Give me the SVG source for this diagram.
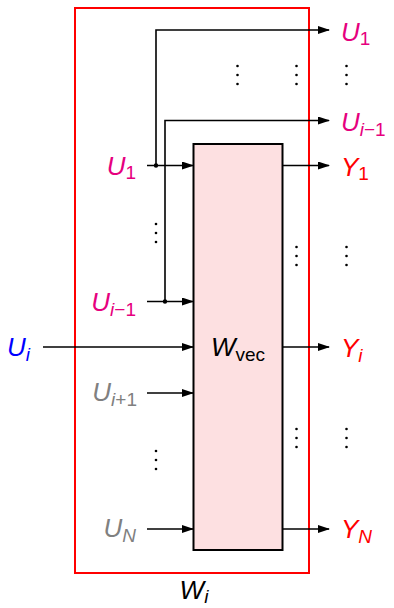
<svg xmlns="http://www.w3.org/2000/svg" width="394" height="608" viewBox="0 0 394 608">
<defs>
<marker id="ah" markerWidth="12" markerHeight="8" refX="11" refY="4" orient="auto" markerUnits="userSpaceOnUse">
<path d="M0,0 L12,4 L0,8 Z" fill="#000"/>
</marker>
</defs>
<style>
text{font-family:"Liberation Sans","DejaVu Sans",sans-serif;font-style:italic;font-size:26px}
.sub{font-size:19px}
.up{font-style:normal}
.mag{fill:#e6007e}
.red{fill:#ff0000}
.blue{fill:#0000ff}
.gray{fill:#808080}
.ln{stroke:#000;stroke-width:1.6;fill:none}
.arr{marker-end:url(#ah)}
.dot{fill:#000}
</style>
<g id="outer">
<rect x="75" y="8" width="234" height="565" fill="none" stroke="#ff0000" stroke-width="2"/>
<text x="194" y="599" text-anchor="middle">W<tspan class="sub" dy="4">i</tspan></text>
</g>
<g id="block">
<rect x="193.5" y="144" width="89" height="406" fill="#fde0e1" stroke="#000" stroke-width="2"/>
<text x="211" y="356">W<tspan class="sub up" dy="5">vec</tspan></text>
</g>
<g id="connectors">
<path class="ln arr" d="M147,165.5 H193"/>
<path class="ln arr" d="M156,165.5 V30 H329"/>
<path class="ln arr" d="M147,301.5 H193"/>
<path class="ln arr" d="M165,301.5 V120.5 H329"/>
<path class="ln arr" d="M43,347 H193"/>
<path class="ln arr" d="M147,393 H193"/>
<path class="ln arr" d="M147,529 H193"/>
<path class="ln arr" d="M283,165.5 H329"/>
<path class="ln arr" d="M283,347 H329"/>
<path class="ln arr" d="M283,529 H329"/>
<circle class="dot" cx="156" cy="165.5" r="2.2"/>
<circle class="dot" cx="165" cy="301.5" r="2.2"/>
</g>
<g id="vdots" class="dot">
<circle cx="237.5" cy="66" r="1.3"/><circle cx="237.5" cy="75" r="1.3"/><circle cx="237.5" cy="84" r="1.3"/>
<circle cx="296.5" cy="66" r="1.3"/><circle cx="296.5" cy="75" r="1.3"/><circle cx="296.5" cy="84" r="1.3"/>
<circle cx="346.5" cy="66" r="1.3"/><circle cx="346.5" cy="75" r="1.3"/><circle cx="346.5" cy="84" r="1.3"/>
<circle cx="156" cy="224" r="1.3"/><circle cx="156" cy="233" r="1.3"/><circle cx="156" cy="242" r="1.3"/>
<circle cx="296.5" cy="247" r="1.3"/><circle cx="296.5" cy="256" r="1.3"/><circle cx="296.5" cy="265" r="1.3"/>
<circle cx="346.5" cy="247" r="1.3"/><circle cx="346.5" cy="256" r="1.3"/><circle cx="346.5" cy="265" r="1.3"/>
<circle cx="156" cy="451" r="1.3"/><circle cx="156" cy="460" r="1.3"/><circle cx="156" cy="469" r="1.3"/>
<circle cx="296.5" cy="429" r="1.3"/><circle cx="296.5" cy="438" r="1.3"/><circle cx="296.5" cy="447" r="1.3"/>
<circle cx="346.5" cy="429" r="1.3"/><circle cx="346.5" cy="438" r="1.3"/><circle cx="346.5" cy="447" r="1.3"/>
</g>
<g id="in-U1"><text class="mag" x="136" y="175" text-anchor="end">U<tspan class="sub up" dy="4">1</tspan></text></g>
<g id="in-Uim1"><text class="mag" x="136" y="311" text-anchor="end">U<tspan class="sub" dy="5">i</tspan><tspan class="sub up">−1</tspan></text></g>
<g id="in-Ui"><text class="blue" x="7" y="356">U<tspan class="sub" dy="5">i</tspan></text></g>
<g id="in-Uip1"><text class="gray" x="137" y="401" text-anchor="end">U<tspan class="sub" dy="5">i</tspan><tspan class="sub up">+1</tspan></text></g>
<g id="in-UN"><text class="gray" x="136" y="537" text-anchor="end">U<tspan class="sub" dy="5">N</tspan></text></g>
<g id="out-U1"><text class="mag" x="341" y="41">U<tspan class="sub up" dy="4">1</tspan></text></g>
<g id="out-Uim1"><text class="mag" x="341" y="131">U<tspan class="sub" dy="5">i</tspan><tspan class="sub up">−1</tspan></text></g>
<g id="out-Y1"><text class="red" x="341" y="176">Y<tspan class="sub up" dy="4">1</tspan></text></g>
<g id="out-Yi"><text class="red" x="341" y="357">Y<tspan class="sub" dy="5">i</tspan></text></g>
<g id="out-YN"><text class="red" x="341" y="538">Y<tspan class="sub" dy="5">N</tspan></text></g>
</svg>
